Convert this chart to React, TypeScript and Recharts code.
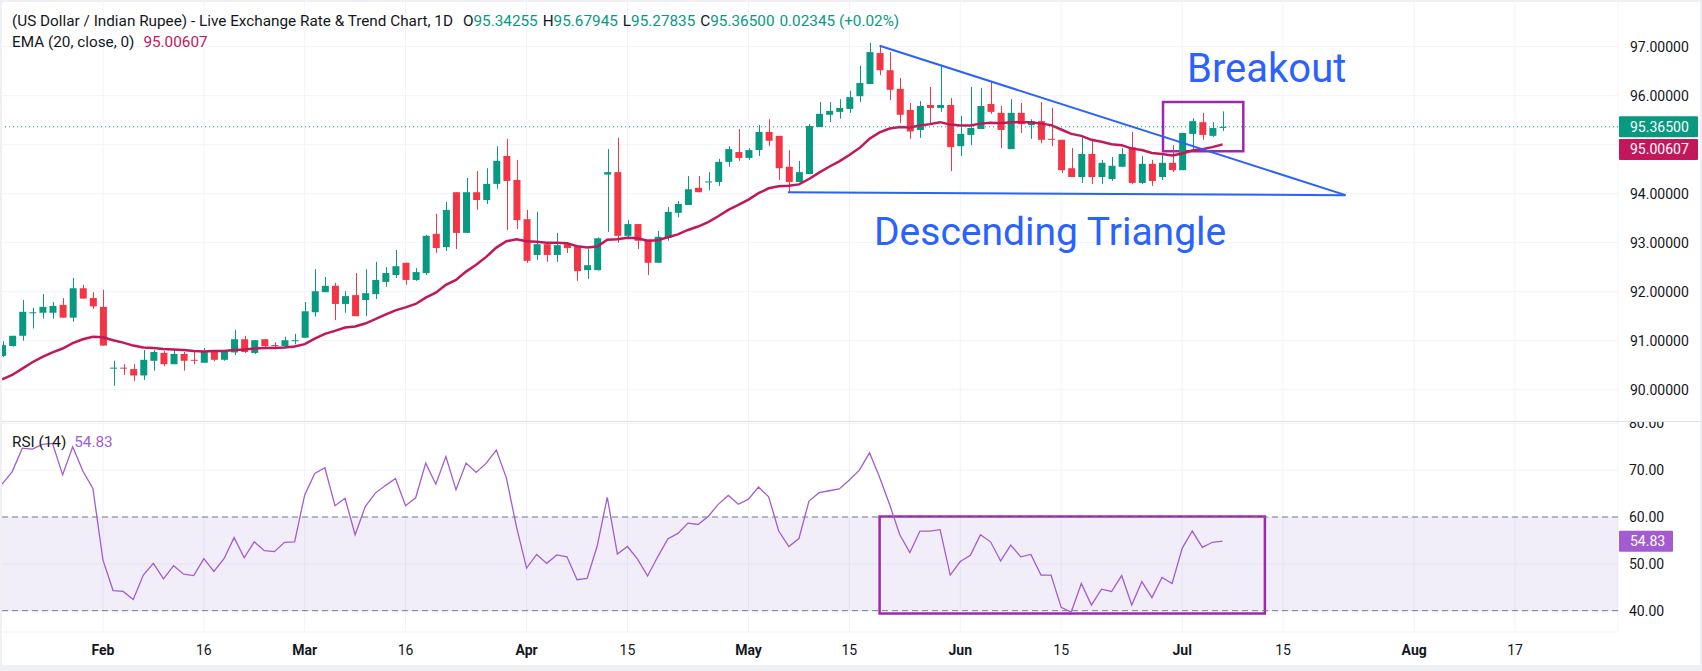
import { Bar, CartesianGrid, ComposedChart, Line, ReferenceArea, ReferenceLine, XAxis, YAxis } from 'recharts'

// USD/INR daily, 2026. Bar 0 is Mon Feb 2; the first visible bar is Jan 19.
const FIRST_BAR = -10

const openVals = [
  90.69, 90.89, 91.1, 91.57, 91.57, 91.57, 91.73, 91.47, 92.07, 91.87,
  91.69, 90.43, 90.45, 90.42, 90.29, 90.59, 90.75, 90.52, 90.73, 90.61,
  90.55, 90.79, 90.61, 90.76, 91.03, 90.75, 91.03, 90.91, 90.89, 91.0,
  91.06, 91.58, 91.99, 92.12, 91.75, 91.93, 91.83, 91.95, 92.2, 92.34,
  92.59, 92.24, 92.38, 93.18, 92.91, 94.03, 93.2, 94.03, 93.87, 94.2,
  94.77, 94.28, 93.48, 92.75, 92.97, 92.75, 92.97, 92.93, 92.44, 92.44,
  94.39, 94.44, 93.14, 93.38, 93.06, 92.59, 93.1, 93.61, 93.77, 94.12,
  94.23, 94.24, 94.65, 94.85, 94.73, 94.89, 95.26, 95.18, 94.55, 94.24,
  94.4, 95.36, 95.61, 95.67, 95.73, 95.99, 96.24, 96.87, 96.52, 96.14,
  95.71, 95.3, 95.81, 95.75, 95.81, 94.97, 95.2, 95.32, 95.83, 95.65,
  94.91, 95.65, 95.4, 95.48, 95.12, 95.1, 94.52, 94.34, 94.81, 94.34,
  94.3, 94.55, 94.95, 94.22, 94.61, 94.34, 94.63, 94.48, 95.22, 95.46,
  95.18, 95.34255,
]
const highVals = [
  90.99, 91.1, 91.83, 91.67, 91.95, 91.79, 91.87, 92.28, 92.14, 91.99,
  92.04, 90.59, 90.52, 90.52, 90.81, 90.81, 90.79, 90.83, 90.77, 90.77,
  90.85, 90.81, 90.79, 91.22, 91.1, 91.01, 91.03, 90.97, 91.08, 91.14,
  91.79, 92.46, 92.3, 92.18, 92.01, 92.38, 92.46, 92.61, 92.5, 92.85,
  92.59, 92.48, 93.16, 93.59, 93.83, 94.03, 94.32, 94.46, 94.52, 94.97,
  95.12, 94.69, 93.67, 93.63, 92.97, 93.2, 93.01, 92.93, 92.87, 93.11,
  94.91, 95.14, 93.46, 93.38, 93.06, 93.24, 93.73, 93.85, 94.36, 94.36,
  94.44, 94.71, 94.97, 95.32, 94.93, 95.4, 95.52, 95.18, 94.89, 94.67,
  95.42, 95.87, 95.87, 95.93, 96.1, 96.61, 97.08, 97.03, 96.89, 96.36,
  95.85, 95.89, 96.18, 96.63, 95.95, 95.59, 96.18, 96.16, 96.28, 95.79,
  95.93, 95.85, 95.52, 95.87, 95.75, 95.1, 94.93, 95.14, 95.1, 94.69,
  94.75, 94.93, 95.26, 94.77, 94.69, 94.83, 94.99, 95.24, 95.54, 95.65,
  95.46, 95.67945,
]
const lowVals = [
  90.67, 90.88, 91.0, 91.25, 91.45, 91.45, 91.47, 91.39, 91.86, 91.65,
  90.9, 90.08, 90.3, 90.18, 90.2, 90.39, 90.48, 90.52, 90.39, 90.52,
  90.55, 90.58, 90.59, 90.71, 90.75, 90.73, 90.83, 90.87, 90.85, 90.93,
  91.06, 91.49, 91.99, 91.42, 91.57, 91.5, 91.5, 91.85, 92.1, 92.28,
  92.14, 92.22, 92.34, 92.79, 92.83, 92.87, 93.2, 93.67, 93.79, 94.1,
  93.26, 93.28, 92.59, 92.65, 92.61, 92.61, 92.79, 92.22, 92.26, 92.43,
  93.22, 93.0, 93.1, 92.87, 92.34, 92.59, 93.04, 93.52, 93.77, 94.03,
  94.07, 94.16, 94.55, 94.67, 94.69, 94.77, 94.97, 94.28, 94.04, 94.24,
  94.4, 95.36, 95.46, 95.53, 95.65, 95.87, 96.24, 96.42, 95.91, 95.44,
  95.12, 95.14, 95.4, 95.67, 94.46, 94.77, 94.99, 95.32, 95.63, 94.93,
  94.91, 95.24, 95.12, 95.03, 94.97, 94.42, 94.34, 94.22, 94.2, 94.2,
  94.26, 94.55, 94.2, 94.2, 94.16, 94.28, 94.44, 94.48, 94.86, 95.1,
  95.16, 95.27835,
]
const closeVals = [
  90.91, 91.1, 91.59, 91.58, 91.69, 91.71, 91.47, 92.07, 91.86, 91.7,
  90.9, 90.45, 90.43, 90.29, 90.61, 90.77, 90.52, 90.73, 90.59, 90.6,
  90.79, 90.61, 90.77, 91.03, 90.77, 91.01, 90.89, 90.9, 91.01, 91.01,
  91.6, 92.01, 92.12, 91.75, 91.91, 91.5, 91.97, 92.24, 92.38, 92.52,
  92.24, 92.4, 93.14, 92.89, 93.67, 93.2, 94.03, 93.87, 94.2, 94.67,
  94.26, 93.46, 92.63, 92.97, 92.75, 92.95, 92.89, 92.42, 92.54, 93.09,
  94.44, 93.14, 93.38, 93.04, 92.59, 93.12, 93.63, 93.79, 94.09, 94.03,
  94.25, 94.65, 94.91, 94.73, 94.89, 95.26, 95.08, 94.52, 94.24, 94.44,
  95.38, 95.63, 95.69, 95.75, 95.97, 96.26, 96.89, 96.52, 96.12, 95.61,
  95.27, 95.79, 95.75, 95.81, 94.95, 95.22, 95.34, 95.79, 95.67, 95.3,
  95.65, 95.42, 95.48, 95.1, 95.1, 94.48, 94.34, 94.81, 94.34, 94.63,
  94.57, 94.81, 94.22, 94.61, 94.26, 94.63, 94.48, 95.24, 95.48, 95.2,
  95.34, 95.365,
]
const emaVals = [
  90.21, 90.3, 90.43, 90.56, 90.67, 90.76, 90.84, 90.95, 91.03, 91.08,
  91.07, 91.01, 90.96, 90.9, 90.86, 90.85, 90.83, 90.82, 90.81, 90.79,
  90.78, 90.79, 90.79, 90.81, 90.82, 90.84, 90.85, 90.85, 90.86, 90.88,
  90.93, 91.04, 91.14, 91.2, 91.27, 91.29, 91.35, 91.44, 91.53, 91.62,
  91.68, 91.75, 91.88, 91.98, 92.14, 92.24, 92.41, 92.55, 92.71, 92.9,
  93.03, 93.07, 93.03, 93.02, 93.0, 93.0, 92.99, 92.93, 92.9, 92.92,
  93.06, 93.07, 93.1, 93.09, 93.04, 93.05, 93.11, 93.17, 93.26, 93.33,
  93.42, 93.54, 93.67, 93.77, 93.88, 94.01, 94.11, 94.15, 94.16, 94.19,
  94.3, 94.43, 94.55, 94.66, 94.79, 94.93, 95.12, 95.25, 95.33, 95.36,
  95.35, 95.39, 95.42, 95.46, 95.41, 95.39, 95.39, 95.43, 95.45, 95.44,
  95.46, 95.46, 95.46, 95.43, 95.4, 95.31, 95.22, 95.18, 95.1, 95.06,
  95.01, 94.99, 94.92, 94.89, 94.83, 94.81, 94.78, 94.82, 94.88, 94.91,
  94.95, 95.00607,
]
const rsiVals = [
  67.0, 69.7, 74.7, 74.5, 75.5, 75.7, 69.0, 75.0, 69.8, 66.1,
  50.8, 44.3, 44.1, 42.4, 47.6, 50.1, 46.8, 49.6, 47.8, 47.5,
  51.1, 48.4, 51.1, 55.6, 51.3, 54.7, 52.8, 52.6, 54.6, 54.7,
  64.7, 69.3, 70.5, 62.4, 64.0, 56.2, 62.2, 65.1, 66.7, 68.2,
  62.4, 64.1, 71.5, 67.0, 72.9, 65.8, 71.5, 69.5, 71.5, 74.3,
  68.3, 57.9, 49.1, 52.0, 50.1, 51.9, 51.5, 46.6, 46.9, 53.8,
  64.2, 52.1, 53.7, 51.0, 47.4, 51.5, 55.3, 56.5, 58.7, 58.4,
  60.1, 62.7, 64.6, 62.7, 63.8, 66.4, 64.3, 57.0, 53.7, 55.4,
  63.4, 65.2, 65.6, 66.0, 67.9, 70.0, 73.7, 68.5, 62.6, 56.2,
  52.4, 57.0, 57.0, 57.3, 47.6, 50.5, 51.8, 56.2, 54.7, 50.6,
  54.0, 51.5, 52.0, 47.6, 47.6, 40.7, 39.7, 45.8, 41.2, 44.6,
  44.1, 47.5, 41.2, 46.2, 42.8, 47.1, 45.8, 53.3, 57.0, 53.5,
  54.6, 54.83,
]

const dateTicks = [0, 10, 20, 30, 42, 52, 64, 74, 85, 95, 107, 117, 130, 140]
const dateLabels = ['Feb', '16', 'Mar', '16', 'Apr', '15', 'May', '15', 'Jun', '15', 'Jul', '15', 'Aug', '17']
const priceTicks = [90, 91, 92, 93, 94, 95, 96, 97]
const rsiTicks = [40, 50, 60, 70, 80]

// drawings on the chart, in bar index / price units
const triangleTop = [{ x: 77.0, y: 97.02 }, { x: 123.2, y: 93.97 }]
const triangleBase = [{ x: 67.9, y: 94.03 }, { x: 123.2, y: 93.97 }]
const breakoutBox = { x1: 105.1, x2: 113.06, y1: 94.865, y2: 95.87 }
const rsiBox = { x1: 77.0, x2: 115.2, y1: 39.4, y2: 60.1 }

const bars = openVals.map((open, k) => ({
  i: FIRST_BAR + k,
  open,
  high: highVals[k],
  low: lowVals[k],
  close: closeVals[k],
  ema: emaVals[k],
  rsi: rsiVals[k],
}))
const last = bars[bars.length - 1]

const W = 1702
const AXIS_W = 84
const PRICE_H = 421
const X_DOMAIN: [number, number] = [-10.21, 150.21]

const UP = '#089981'
const DOWN = '#f23645'
const EMA_COLOR = '#c2185b'
const RSI_COLOR = '#a35cd0'
const BOX_COLOR = '#9c27b0'
const DRAW_BLUE = '#2962ff'
const GRID = '#f0f3fa'
const TEXT = '#131722'
const FONT = 'Roboto, "Noto Sans", sans-serif'
const LEGEND_SIZE = 15.3

function Candle(props: any) {
  const { x, y, width, height, payload } = props
  if (!payload) return null
  const { open, close, high, low } = payload
  const color = close >= open ? UP : DOWN
  const h = Math.abs(height)
  const top = height < 0 ? y + height : y
  const pxPer = high > low ? h / (high - low) : 0
  const bodyTop = top + (high - Math.max(open, close)) * pxPer
  const bodyH = Math.max(1, Math.abs(open - close) * pxPer)
  const cx = Math.round(x + width / 2) + 0.5
  return (
    <g>
      <line x1={cx} x2={cx} y1={top} y2={top + h} stroke={color} strokeWidth={1} />
      <rect x={x} y={bodyTop} width={width} height={bodyH} fill={color} />
    </g>
  )
}

function PriceTag(props: any) {
  const { viewBox, text, bg, width = 79, shift = 0 } = props
  if (!viewBox) return null
  const x = viewBox.x + viewBox.width
  const y = viewBox.y + shift
  return (
    <g>
      <rect x={x + 1} y={y - 10.5} width={width} height={21} fill={bg} rx={1} />
      <text x={x + 12} y={y} dy="0.36em" fill="#ffffff" fontSize={14}>
        {text}
      </text>
    </g>
  )
}

function DateTick(props: any) {
  const { x, y, payload } = props
  const label = dateLabels[dateTicks.indexOf(payload.value)] ?? ''
  const isMonth = /[A-Za-z]/.test(label)
  return (
    <text x={x} y={y} dy="0.71em" textAnchor="middle" fill={TEXT} fontSize={14} fontWeight={isMonth ? 700 : 400}>
      {label}
    </text>
  )
}

function PriceChart() {
  return (
    <ComposedChart width={W} height={PRICE_H} data={bars} margin={{ top: 0, right: 0, bottom: 0, left: 0 }}>
      <CartesianGrid stroke={GRID} />
      <XAxis
        type="number"
        dataKey="i"
        domain={X_DOMAIN}
        ticks={dateTicks}
        allowDataOverflow
        hide
        height={0}
      />
      <YAxis
        orientation="right"
        width={AXIS_W}
        domain={[89.361, 97.953]}
        ticks={priceTicks}
        interval={0}
        allowDataOverflow
        axisLine={false}
        tickLine={false}
        tickSize={0}
        tickMargin={12}
        tick={{ fill: TEXT, fontSize: 14 }}
        tickFormatter={(v: number) => (v === 95 ? '' : v.toFixed(5))}
      />
      <Bar dataKey={(d: any) => [d.low, d.high]} barSize={7} shape={<Candle />} isAnimationActive={false} />
      <Line
        type="linear"
        dataKey="ema"
        stroke={EMA_COLOR}
        strokeWidth={2.5}
        dot={false}
        activeDot={false}
        isAnimationActive={false}
      />
      <ReferenceLine
        y={last.close}
        stroke={UP}
        strokeDasharray="1 3"
        label={<PriceTag text={last.close.toFixed(5)} bg={UP} />}
      />
      <ReferenceLine
        y={last.ema}
        stroke="none"
        label={<PriceTag text={last.ema.toFixed(5)} bg={EMA_COLOR} shift={5} />}
      />
      <ReferenceLine segment={triangleTop} stroke={DRAW_BLUE} strokeWidth={2} />
      <ReferenceLine segment={triangleBase} stroke={DRAW_BLUE} strokeWidth={2} />
      <ReferenceArea {...breakoutBox} fill="none" fillOpacity={0} stroke={BOX_COLOR} strokeWidth={2.5} />
    </ComposedChart>
  )
}

function RsiChart() {
  return (
    <ComposedChart width={W} height={671 - PRICE_H} data={bars} margin={{ top: 0, right: 0, bottom: 0, left: 0 }}>
      <CartesianGrid stroke={GRID} />
      <XAxis
        type="number"
        dataKey="i"
        domain={X_DOMAIN}
        ticks={dateTicks}
        interval={0}
        allowDataOverflow
        height={39}
        axisLine={false}
        tickLine={false}
        tickSize={0}
        tickMargin={13}
        tick={<DateTick />}
      />
      <YAxis
        orientation="right"
        width={AXIS_W}
        domain={[35.45, 80.49]}
        ticks={rsiTicks}
        interval={0}
        allowDataOverflow
        axisLine={false}
        tickLine={false}
        tickSize={0}
        tickMargin={11}
        tick={{ fill: TEXT, fontSize: 14 }}
        tickFormatter={(v: number) => v.toFixed(2)}
      />
      <ReferenceArea y1={40} y2={60} fill="#7e57c2" fillOpacity={0.1} stroke="none" />
      <ReferenceLine y={60} stroke="#787b86" strokeDasharray="6 4" />
      <ReferenceLine y={40} stroke="#787b86" strokeDasharray="6 4" />
      <Line
        type="linear"
        dataKey="rsi"
        stroke={RSI_COLOR}
        strokeWidth={1.3}
        dot={false}
        activeDot={false}
        isAnimationActive={false}
      />
      <ReferenceArea {...rsiBox} fill="none" fillOpacity={0} stroke={BOX_COLOR} strokeWidth={2.5} />
      <ReferenceLine
        y={last.rsi}
        stroke="none"
        label={<PriceTag text={last.rsi.toFixed(2)} bg={RSI_COLOR} width={54} />}
      />
    </ComposedChart>
  )
}

const frame = '#eef0f4'
const legendLine = {
  position: 'absolute' as const,
  left: 12,
  fontSize: LEGEND_SIZE,
  lineHeight: '18px',
  whiteSpace: 'nowrap' as const,
}

export default function App() {
  return (
    <div
      style={{
        position: 'absolute',
        left: 0,
        top: 0,
        width: W,
        height: 671,
        background: '#ffffff',
        overflow: 'hidden',
        fontFamily: FONT,
        color: TEXT,
      }}
    >
      <div style={{ position: 'absolute', left: 0, top: 0 }}>
        <PriceChart />
      </div>
      <div style={{ position: 'absolute', left: 0, top: PRICE_H }}>
        <RsiChart />
      </div>
      <div style={{ position: 'absolute', left: 0, top: PRICE_H, width: W, height: 1, background: '#e0e3eb' }} />

      <div style={{ ...legendLine, top: 12 }}>
        (US Dollar / Indian Rupee) - Live Exchange Rate &amp; Trend Chart, 1D
        <span style={{ marginLeft: 10 }}>O</span>
        <span style={{ color: UP }}>95.34255</span>
        <span style={{ marginLeft: 5 }}>H</span>
        <span style={{ color: UP }}>95.67945</span>
        <span style={{ marginLeft: 5 }}>L</span>
        <span style={{ color: UP }}>95.27835</span>
        <span style={{ marginLeft: 5 }}>C</span>
        <span style={{ color: UP }}>95.36500</span>
        <span style={{ color: UP, marginLeft: 5 }}>0.02345 (+0.02%)</span>
      </div>
      <div style={{ ...legendLine, top: 33 }}>
        EMA (20, close, 0)
        <span style={{ color: EMA_COLOR, marginLeft: 9 }}>95.00607</span>
      </div>
      <div style={{ ...legendLine, top: 433 }}>
        RSI (14)
        <span style={{ color: RSI_COLOR, marginLeft: 8 }}>54.83</span>
      </div>

      <svg width={W} height={671} style={{ position: 'absolute', left: 0, top: 0, pointerEvents: 'none' }}>
        <text x={1187} y={81.7} fill={DRAW_BLUE} fontSize={40}>
          Breakout
        </text>
        <text x={874} y={245} fill={DRAW_BLUE} fontSize={39}>
          Descending Triangle
        </text>
      </svg>

      <div style={{ position: 'absolute', left: 0, top: 0, width: W, height: 2, background: frame }} />
      <div style={{ position: 'absolute', left: 0, top: 0, width: 2, height: 671, background: frame }} />
      <div style={{ position: 'absolute', left: W - 2, top: 0, width: 2, height: 671, background: frame }} />
      <div style={{ position: 'absolute', left: 0, top: 665, width: W, height: 6, background: frame }} />
    </div>
  )
}
